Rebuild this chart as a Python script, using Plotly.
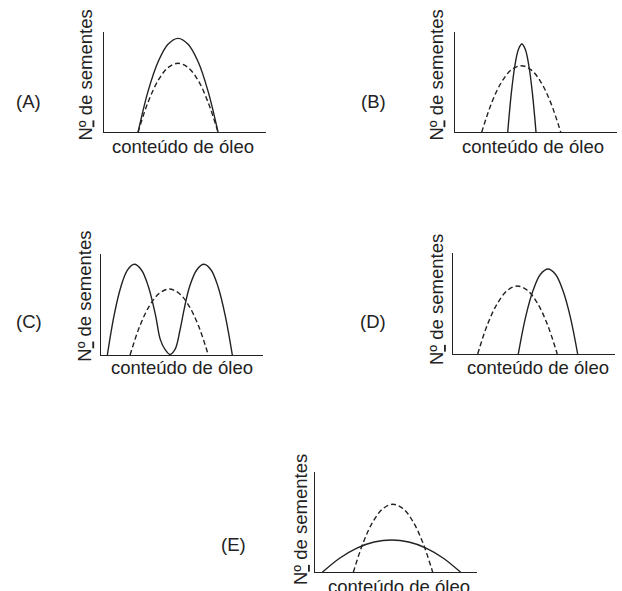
import plotly.graph_objects as go

# ---------------- data (axes scaled 0..100) ----------------
panel_labels = ["(A)", "(B)", "(C)", "(D)", "(E)"]
y_title = "N<u>º</u> de sementes"
x_title = "conteúdo de óleo"

A_solid_x = [21.2, 27.4, 33.6, 39.7, 45.9, 52.1, 58.3, 64.4, 70.6]
A_solid_y = [0, 40.9, 70.1, 87.6, 93.4, 87.6, 70.1, 40.9, 0]
A_dash_x = [21.2, 27.4, 33.6, 39.7, 45.9, 52.1, 58.3, 64.4, 70.6]
A_dash_y = [0, 30.0, 51.5, 64.3, 68.6, 64.3, 51.5, 30.0, 0]

B_solid_x = [32.6, 34.8, 37.0, 39.2, 41.35, 43.5, 45.7, 47.9, 50.1]
B_solid_y = [0, 38.4, 65.9, 82.3, 87.8, 82.3, 65.9, 38.4, 0]
B_dash_x = [16.5, 22.6, 28.7, 34.8, 40.95, 47.1, 53.2, 59.3, 65.4]
B_dash_y = [0, 29.0, 49.7, 62.1, 66.2, 62.1, 49.7, 29.0, 0]

C_solid_x = [4.1, 8.25, 12.4, 16.55, 20.7, 25.1, 29.45, 33.8, 36.6, 39.6, 42.7,
             45.8, 48.9, 51.5, 54.7, 59.15, 63.6, 68.0, 72.35, 76.7, 81.1]
C_solid_y = [0, 39.3, 67.4, 84.2, 89.8, 84.2, 67.4, 39.3, 16.0, 5.5, 0.5,
             5.5, 25.0, 46.0, 67.4, 84.2, 89.8, 84.2, 67.4, 39.3, 0]
C_dash_x = [18.1, 24.1, 30.15, 36.2, 42.2, 48.2, 54.25, 60.3, 66.3]
C_dash_y = [0, 28.6, 49.0, 61.2, 65.3, 61.2, 49.0, 28.6, 0]

D_solid_x = [40.4, 44.95, 49.55, 54.1, 58.7, 63.3, 67.85, 72.45, 77.0]
D_solid_y = [0, 36.7, 62.9, 78.7, 83.9, 78.7, 62.9, 36.7, 0]
D_dash_x = [15.4, 21.5, 27.65, 33.8, 39.9, 46.0, 52.15, 58.3, 64.4]
D_dash_y = [0, 29.4, 50.3, 62.9, 67.1, 62.9, 50.3, 29.4, 0]

E_solid_x = [4.5, 15.2, 25.9, 36.6, 47.3, 58.0, 68.7, 79.4, 90.1]
E_solid_y = [0, 14.0, 24.1, 30.1, 32.1, 30.1, 24.1, 14.0, 0]
E_dash_x = [23.7, 29.85, 35.95, 42.1, 48.25, 54.4, 60.5, 66.65, 72.8]
E_dash_y = [0, 29.6, 50.7, 63.4, 67.6, 63.4, 50.7, 29.6, 0]

curves = [
    (A_solid_x, A_solid_y, A_dash_x, A_dash_y),
    (B_solid_x, B_solid_y, B_dash_x, B_dash_y),
    (C_solid_x, C_solid_y, C_dash_x, C_dash_y),
    (D_solid_x, D_solid_y, D_dash_x, D_dash_y),
    (E_solid_x, E_solid_y, E_dash_x, E_dash_y),
]

# ---------------- layout (pixel geometry of the reference) ----------------
W, H = 622, 591
# plot boxes: (left, right, top, bottom) in px
boxes = [
    (103.7, 265.7, 31.7, 132.3),
    (455.0, 616.7, 31.7, 132.3),
    (100.7, 263.0, 254.0, 355.0),
    (452.7, 615.0, 252.7, 354.0),
    (315.0, 476.7, 471.7, 572.3),
]
letter_pos = [(28, 101.7), (373, 101.7), (29, 321.7), (373.3, 321.7), (233.3, 544)]
ylab_pos = [(85, 75.5), (436, 75.5), (85, 296.7), (436, 300), (300, 520)]
xlab_pos = [(182.5, 146.5), (533.3, 146.5), (181.7, 367.8), (538.3, 367.5), (399, 586.5)]

INK = "#222222"
FONT = "Liberation Sans, Arial, Helvetica, sans-serif"
FS = 18.5

fig = go.Figure()
layout = dict(
    width=W, height=H,
    margin=dict(l=0, r=0, t=0, b=0),
    paper_bgcolor="white", plot_bgcolor="white",
    showlegend=False,
    font=dict(family=FONT, size=FS, color=INK),
)
annotations = []

for i, (box, cv) in enumerate(zip(boxes, curves)):
    l, r, t, b = box
    n = "" if i == 0 else str(i + 1)
    xa = "x" + n
    ya = "y" + n
    axis_common = dict(
        range=[0, 100], showgrid=False, zeroline=False, showticklabels=False,
        ticks="", showline=True, linecolor=INK, linewidth=1.3, fixedrange=True,
    )
    layout["xaxis" + n] = dict(axis_common, domain=[l / W, r / W], anchor=ya)
    layout["yaxis" + n] = dict(axis_common, domain=[1 - b / H, 1 - t / H], anchor=xa)

    sx, sy, dx, dy = cv
    fig.add_trace(go.Scatter(
        x=sx, y=sy, mode="lines", xaxis=xa, yaxis=ya, hoverinfo="skip",
        line=dict(color=INK, width=1.4, shape="spline"),
    ))
    fig.add_trace(go.Scatter(
        x=dx, y=dy, mode="lines", xaxis=xa, yaxis=ya, hoverinfo="skip",
        line=dict(color=INK, width=1.4, shape="spline", dash="5px,3px"),
    ))

    lx, ly = letter_pos[i]
    annotations.append(dict(
        text=panel_labels[i], x=lx / W, y=1 - ly / H, xref="paper", yref="paper",
        xanchor="center", yanchor="middle", showarrow=False,
        font=dict(family=FONT, size=FS, color=INK),
    ))
    yx, yy = ylab_pos[i]
    annotations.append(dict(
        text=y_title, x=yx / W, y=1 - yy / H, xref="paper", yref="paper",
        xanchor="center", yanchor="middle", showarrow=False, textangle=-90,
        font=dict(family=FONT, size=FS, color=INK),
    ))
    xx, xy = xlab_pos[i]
    annotations.append(dict(
        text=x_title, x=xx / W, y=1 - xy / H, xref="paper", yref="paper",
        xanchor="center", yanchor="middle", showarrow=False,
        font=dict(family=FONT, size=FS, color=INK),
    ))

layout["annotations"] = annotations
fig.update_layout(**layout)
fig.write_html(
    "out.html",
    config={"displayModeBar": False},
    post_script="document.body.style.margin='0';document.body.style.padding='0';",
)
